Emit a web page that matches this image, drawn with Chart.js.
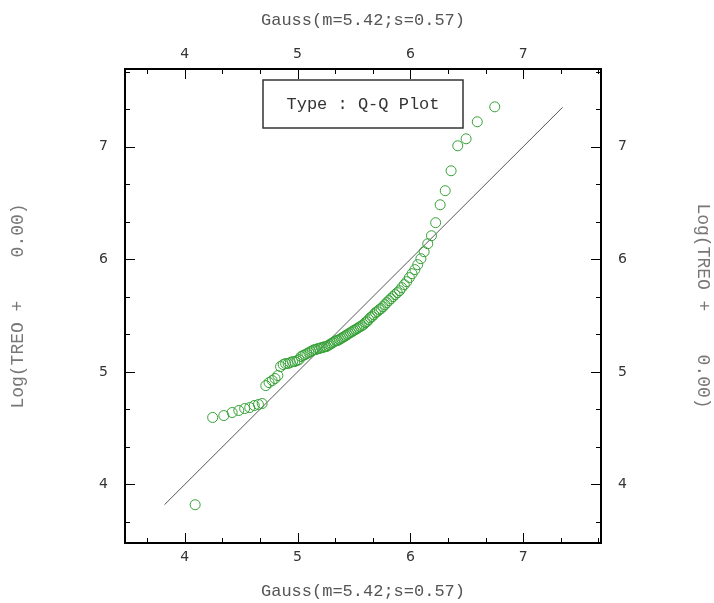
<!DOCTYPE html>
<html>
<head>
<meta charset="utf-8">
<script src="https://cdn.jsdelivr.net/npm/chart.js@4.4.1/dist/chart.umd.min.js"></script>
<style>
  body { margin: 0; background: #fff; }
  canvas { display: block; }
</style>
</head>
<body>
<canvas id="qq" width="714" height="603"></canvas>
<script>
// theoretical gaussian quantiles (x) vs sorted log values (y)
const gaussQ = [
  4.092, 4.247, 4.346, 4.420, 4.479, 4.531, 4.576, 4.616, 4.653, 4.686,
  4.718, 4.747, 4.775, 4.800, 4.825, 4.849, 4.872, 4.894, 4.916, 4.936,
  4.956, 4.975, 4.995, 5.013, 5.031, 5.049, 5.066, 5.083, 5.100, 5.116,
  5.133, 5.149, 5.164, 5.180, 5.195, 5.210, 5.225, 5.240, 5.255, 5.270,
  5.284, 5.299, 5.313, 5.327, 5.342, 5.356, 5.370, 5.385, 5.399, 5.413,
  5.427, 5.441, 5.455, 5.470, 5.484, 5.498, 5.513, 5.527, 5.541, 5.556,
  5.570, 5.585, 5.600, 5.615, 5.630, 5.645, 5.660, 5.676, 5.691, 5.707,
  5.724, 5.740, 5.757, 5.774, 5.791, 5.809, 5.827, 5.845, 5.864, 5.884,
  5.904, 5.924, 5.946, 5.968, 5.991, 6.015, 6.040, 6.065, 6.093, 6.122,
  6.154, 6.187, 6.224, 6.264, 6.309, 6.361, 6.420, 6.494, 6.593, 6.748
];
const logTreo = [
  3.820, 4.595, 4.612, 4.639, 4.657, 4.674, 4.683, 4.701, 4.710, 4.719,
  4.878, 4.905, 4.923, 4.941, 4.967, 5.047, 5.065, 5.074, 5.074, 5.083,
  5.091, 5.091, 5.100, 5.109, 5.136, 5.145, 5.153, 5.162, 5.171, 5.180,
  5.189, 5.198, 5.198, 5.207, 5.207, 5.216, 5.216, 5.224, 5.224, 5.233,
  5.242, 5.251, 5.260, 5.269, 5.278, 5.278, 5.287, 5.296, 5.304, 5.313,
  5.322, 5.331, 5.340, 5.349, 5.358, 5.367, 5.375, 5.384, 5.393, 5.402,
  5.411, 5.420, 5.438, 5.446, 5.464, 5.482, 5.491, 5.508, 5.526, 5.535,
  5.553, 5.562, 5.579, 5.597, 5.615, 5.633, 5.650, 5.668, 5.686, 5.704,
  5.721, 5.748, 5.775, 5.801, 5.837, 5.872, 5.908, 5.952, 6.005, 6.067,
  6.138, 6.209, 6.325, 6.484, 6.609, 6.786, 7.008, 7.070, 7.221, 7.354
];
const fitLine = [3.82, 7.35];      // y = x reference line ends
const axisTicks = [4, 5, 6, 7];
const xRange = [3.47, 7.69];
const yRange = [3.48, 7.69];
const xTitle = 'Gauss(m=5.42;s=0.57)';
const yTitle = 'Log(TREO +    0.00)';
const boxLabel = 'Type : Q-Q Plot';

const mono = '"Courier New", "Liberation Mono", monospace';

function axis(pos, range, size, labelPad, title, titleFont, titlePad, titleColor) {
  const horiz = pos === 'top' || pos === 'bottom';
  return {
    type: 'linear',
    position: pos,
    display: true,
    min: range[0],
    max: range[1],
    afterBuildTicks: s => { s.ticks = axisTicks.map(v => ({ value: v })); },
    afterFit: s => { if (horiz) s.height = size; else s.width = size; },
    grid: { display: false, drawTicks: false },
    border: { display: true, color: '#000', width: 2 },
    ticks: {
      padding: labelPad,
      maxRotation: 0,
      color: '#333',
      font: { family: 'DejaVu Sans', size: 14 }
    },
    title: {
      display: true,
      text: title,
      color: titleColor,
      font: { family: mono, size: titleFont },
      padding: titlePad
    }
  };
}

// small inward ticks every 1/3 unit, longer at integers
const innerTicks = {
  id: 'innerTicks',
  afterDraw(chart) {
    const { ctx, chartArea: a } = chart;
    ctx.save();
    ctx.strokeStyle = '#000';
    ctx.lineWidth = 1;
    for (const id of ['x', 'x2', 'y', 'y2']) {
      const s = chart.scales[id];
      for (let k = Math.ceil(s.min * 3); k <= s.max * 3; k++) {
        const len = k % 3 === 0 ? 10 : 5;
        const p = Math.round(s.getPixelForValue(k / 3)) + 0.5;
        ctx.beginPath();
        if (id === 'x') { ctx.moveTo(p, a.bottom); ctx.lineTo(p, a.bottom - len); }
        if (id === 'x2') { ctx.moveTo(p, a.top); ctx.lineTo(p, a.top + len); }
        if (id === 'y') { ctx.moveTo(a.left, p); ctx.lineTo(a.left + len, p); }
        if (id === 'y2') { ctx.moveTo(a.right, p); ctx.lineTo(a.right - len, p); }
        ctx.stroke();
      }
    }
    ctx.restore();
  }
};

const typeBox = {
  id: 'typeBox',
  afterDraw(chart) {
    const { ctx, chartArea: a } = chart;
    const cx = (a.left + a.right) / 2;
    const top = a.top + 11;
    ctx.save();
    ctx.fillStyle = '#fff';
    ctx.fillRect(cx - 100, top, 200, 48);
    ctx.strokeStyle = '#333';
    ctx.lineWidth = 1.5;
    ctx.strokeRect(cx - 100, top, 200, 48);
    ctx.font = '17px ' + mono;
    ctx.fillStyle = '#333';
    ctx.textAlign = 'center';
    ctx.textBaseline = 'middle';
    ctx.fillText(boxLabel, cx, top + 24);
    ctx.restore();
  }
};

const points = gaussQ.map((g, i) => ({ x: g, y: logTreo[i] }));

new Chart(document.getElementById('qq'), {
  type: 'scatter',
  data: {
    datasets: [{
      label: 'Q-Q',
      data: points,
      pointStyle: 'circle',
      pointRadius: 5,
      borderWidth: 1,
      borderColor: '#35a035',
      backgroundColor: 'rgba(0,0,0,0)'
    }, {
      type: 'line',
      label: 'fit',
      data: fitLine.map(v => ({ x: v, y: v })),
      borderColor: '#555',
      borderWidth: 1,
      pointRadius: 0
    }]
  },
  options: {
    responsive: false,
    animation: false,
    layout: { padding: 0 },
    plugins: { legend: { display: false }, tooltip: { enabled: false } },
    scales: {
      x: axis('bottom', xRange, 60, 6, xTitle, 17, { bottom: 1 }, '#555'),
      x2: axis('top', xRange, 69, 6, xTitle, 17, { top: 10 }, '#555'),
      y: axis('left', yRange, 125, 17, yTitle, 18, { top: 7 }, '#777'),
      y2: axis('right', yRange, 113, 17, yTitle, 18, { top: 0 }, '#777')
    }
  },
  plugins: [innerTicks, typeBox]
});
</script>
</body>
</html>
